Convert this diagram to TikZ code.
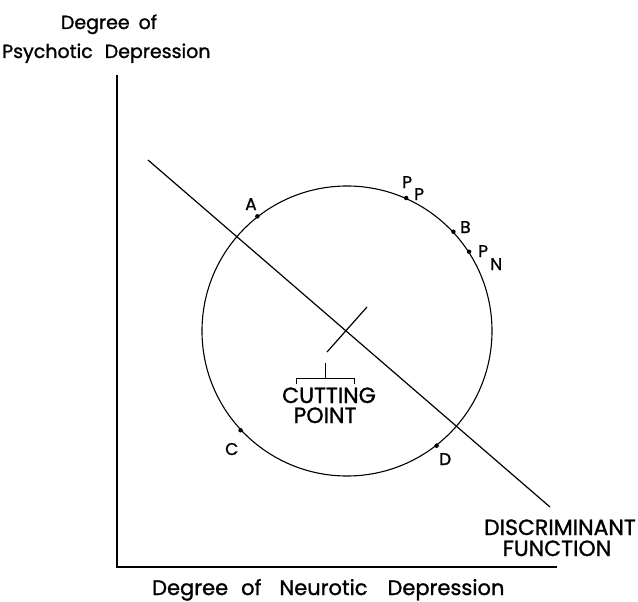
\documentclass[tikz,border=0pt]{standalone}
\usepackage{fontspec}
\setmainfont{Poppins}[UprightFeatures={FakeBold=1.2}]
\begin{document}
\begin{tikzpicture}[x=1pt,y=-1pt,
  lbl/.style={inner sep=0pt, font=\fontsize{17}{20}\selectfont},
  captxt/.style={inner sep=0pt, text depth=0pt, font=\fontsize{22}{22}\selectfont},
  ax/.style={inner sep=0pt, font=\fontsize{19}{24}\selectfont},
  axb/.style={inner sep=0pt, font=\fontsize{21}{24}\selectfont},
  ln/.style={line width=1.2pt},
  dot/.style={circle, fill=black, inner sep=0pt, minimum size=4.5pt}]
\useasboundingbox (0,0) rectangle (638,602);
% axes
\coordinate (ytop) at (117,75);
\coordinate (origin) at (117,567);
\coordinate (xend) at (557,567);
\draw[ln] (ytop) -- (origin) -- (xend);
% circle
\node[circle, draw, line width=1.1pt, minimum size=290pt, inner sep=0pt] (circ) at (347,331) {};
% discriminant line
\coordinate (d1) at (148,160);
\coordinate (d2) at (550,507);
\draw[ln] (d1) -- (d2);
% cutting point cross
\coordinate (cp1) at (327,352);
\coordinate (cp2) at (367,307);
\draw[ln] (cp1) -- (cp2);
% bracket
\coordinate (br1) at (296,384);
\coordinate (br2) at (296,378);
\coordinate (br3) at (354,378);
\coordinate (br4) at (354,384);
\coordinate (brm) at (325,378);
\coordinate (brt) at (325,363);
\draw[line width=1pt] (br1) -- (br2) -- (br3) -- (br4);
\draw[line width=1pt] (brm) -- (brt);
% points on circle
\node[dot] (pA) at (circ.128) {};
\node[dot] (pPP) at (circ.66.6) {};
\node[dot] (pB) at (circ.43.6) {};
\node[dot] (pPN) at (circ.33.7) {};
\node[dot] (pC) at (circ.223.6) {};
\node[dot] (pD) at (circ.308.5) {};
% point labels
\node[lbl, anchor=base west] (tA) at (245,210) {A};
\node[lbl, anchor=base west] (tP1) at (402,188) {P};
\node[lbl, anchor=base west] (tP1s) at (414,200) {P};
\node[lbl, anchor=base west] (tB) at (460,233) {B};
\node[lbl, anchor=base west] (tP2) at (478,257) {P};
\node[lbl, anchor=base west] (tP2s) at (490,270) {N};
\node[lbl, anchor=base west] (tC) at (225,455) {C};
\node[lbl, anchor=base west] (tD) at (439,465) {D};
% cutting point text
\node[captxt, anchor=base] (cut1) at (329,403) {CUTTING};
\node[captxt, anchor=base] (cut2) at (325,423) {POINT};
% discriminant text
\node[captxt, anchor=base east] (dis1) at (636,535) {DISCRIMINANT};
\node[captxt, anchor=base] (dis2) at (557,556) {FUNCTION};
% axis labels
\node[ax, anchor=base] (yl1) at (109,29) {Degree\hspace{9pt}of};
\node[ax, anchor=base west] (yl2) at (2,58) {Psychotic\hspace{12pt}Depression};
\node[axb, anchor=base west] (xl) at (152,595) {Degree\hspace{13pt}of\hspace{18pt}Neurotic\hspace{20pt}Depression};
\end{tikzpicture}
\end{document}
